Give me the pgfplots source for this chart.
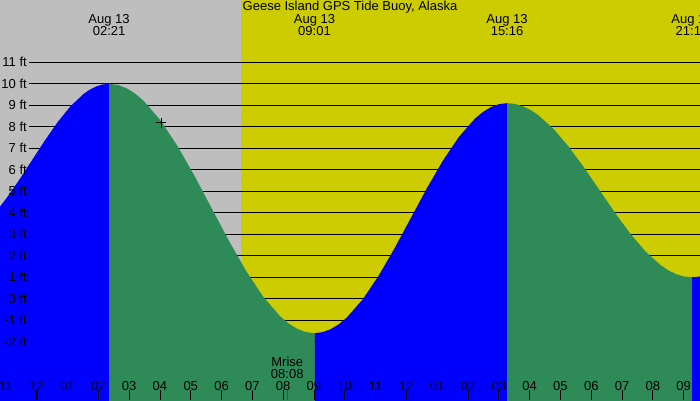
\documentclass[border=0pt]{standalone}
\usepackage{fontspec}
\setmainfont{Liberation Sans}
\usepackage{pgfplots}
\pgfplotsset{compat=1.18}

\definecolor{bggray}{RGB}{190,190,190}
\definecolor{sunyel}{RGB}{204,204,0}
\definecolor{tidegreen}{RGB}{46,139,87}
\definecolor{tideblue}{RGB}{0,0,255}

\newcommand{\lbl}{\fontsize{13}{12}\selectfont}

\begin{document}
\begin{tikzpicture}
  \useasboundingbox (0,0) rectangle (700pt,400pt);
  \clip (0,0) rectangle (700pt,400pt);
  \begin{axis}[
      at={(0,0)}, anchor=south west,
      scale only axis,
      width=700pt, height=400pt,
      xmin=-1.191, xmax=21.53,
      ymin=-4.71, ymax=13.90,
      hide y axis,
      axis x line*=bottom,
      x axis line style={draw=none},
      axis on top,
      xtick={-1,0,...,21},
      xticklabels={11,12,01,02,03,04,05,06,07,08,09,10,11,12,01,02,03,04,05,06,07,08,09},
      xticklabel style={anchor=base, yshift=10pt, font=\lbl},
      tick align=inside,
      major tick length=10pt,
      tick style={black, line width=0.8pt},
      extra x ticks={0},
      extra x tick labels={},
      extra x tick style={tick style={black, line width=3pt}},
    ]

    % day / night background
    \addplot[fill=bggray, draw=none] coordinates {(-1.3,-5) (6.63,-5) (6.63,14) (-1.3,14)};
    \addplot[fill=sunyel, draw=none] coordinates {(6.63,-5) (21.6,-5) (21.6,14) (6.63,14)};

    % feet lines
    \pgfplotsinvokeforeach{-2,...,11}{
      \addplot[black, line width=0.8pt] coordinates {(-0.25,#1) (21.6,#1)};
    }

    % rising, up to high 02:21
    \addplot[fill=tideblue, draw=none] coordinates {
        (-1.191,-5) (-1.191,4.289) (-0.983,4.675) (-0.567,5.531) (-0.150,6.450)
        (0.267,7.369) (0.683,8.225) (1.100,8.960) (1.517,9.524) (1.725,9.730)
        (1.933,9.879) (2.142,9.970) (2.350,10.000) (2.350,-5)
      };
    % falling, down to low 09:01
    \addplot[fill=tidegreen, draw=none] coordinates {
        (2.350,-5) (2.350,10.000) (2.628,9.950) (2.906,9.802) (3.183,9.559)
        (3.461,9.223) (4.017,8.301) (4.572,7.100) (5.128,5.701) (5.683,4.200)
        (6.239,2.699) (6.794,1.300) (7.350,0.099) (7.906,-0.823) (8.183,-1.158)
        (8.461,-1.402) (8.739,-1.550) (9.017,-1.600) (9.017,-5)
      };
    % rising, up to high 15:16
    \addplot[fill=tideblue, draw=none] coordinates {
        (9.017,-5) (9.017,-1.600) (9.277,-1.554) (9.538,-1.418) (9.798,-1.193)
        (10.059,-0.883) (10.580,-0.033) (11.100,1.075) (11.621,2.365) (12.142,3.750)
        (12.663,5.135) (13.184,6.425) (13.705,7.533) (14.225,8.383) (14.486,8.693)
        (14.746,8.918) (15.007,9.054) (15.267,9.100) (15.267,-5)
      };
    % falling, down to low 21:16
    \addplot[fill=tidegreen, draw=none] coordinates {
        (15.267,-5) (15.267,9.100) (15.517,9.065) (15.767,8.962) (16.017,8.792)
        (16.268,8.557) (16.768,7.914) (17.268,7.075) (17.768,6.098) (18.269,5.050)
        (18.769,4.002) (19.269,3.025) (19.769,2.186) (20.270,1.543) (20.520,1.308)
        (20.770,1.138) (21.020,1.035) (21.270,1.000) (21.270,-5)
      };
    % rising again
    \addplot[fill=tideblue, draw=none] coordinates {
        (21.270,-5) (21.270,1.000) (21.400,1.010) (21.530,1.040) (21.600,1.050) (21.600,-5)
      };

    % present time
    \addplot[only marks, mark=+, mark size=5pt, black, line width=0.8pt] coordinates {(4.04,8.2)};

    % labels of the feet lines
    \pgfplotsinvokeforeach{-2,...,11}{
      \node[anchor=east, inner sep=0pt, font=\lbl] at (axis cs:-0.315,#1) {#1 ft};
    }

    % moonrise
    \draw[red, line width=0.8pt] (axis cs:8.133,-4.71) -- (axis cs:8.133,-4.24);
    \node[align=center, font=\lbl, inner sep=0pt] at (axis cs:8.133,-3.22) {Mrise\\08:08};

    % title and high/low times
    \node[font=\lbl, inner sep=0pt] at (axis cs:10.17,13.57) {Geese Island GPS Tide Buoy, Alaska};
    \node[align=center, font=\lbl, inner sep=0pt] at (axis cs:2.350,12.735) {Aug 13\\02:21};
    \node[align=center, font=\lbl, inner sep=0pt] at (axis cs:9.017,12.735) {Aug 13\\09:01};
    \node[align=center, font=\lbl, inner sep=0pt] at (axis cs:15.267,12.735) {Aug 13\\15:16};
    \node[align=center, font=\lbl, inner sep=0pt] at (axis cs:21.270,12.735) {Aug 13\\21:16};
  \end{axis}
\end{tikzpicture}
\end{document}
